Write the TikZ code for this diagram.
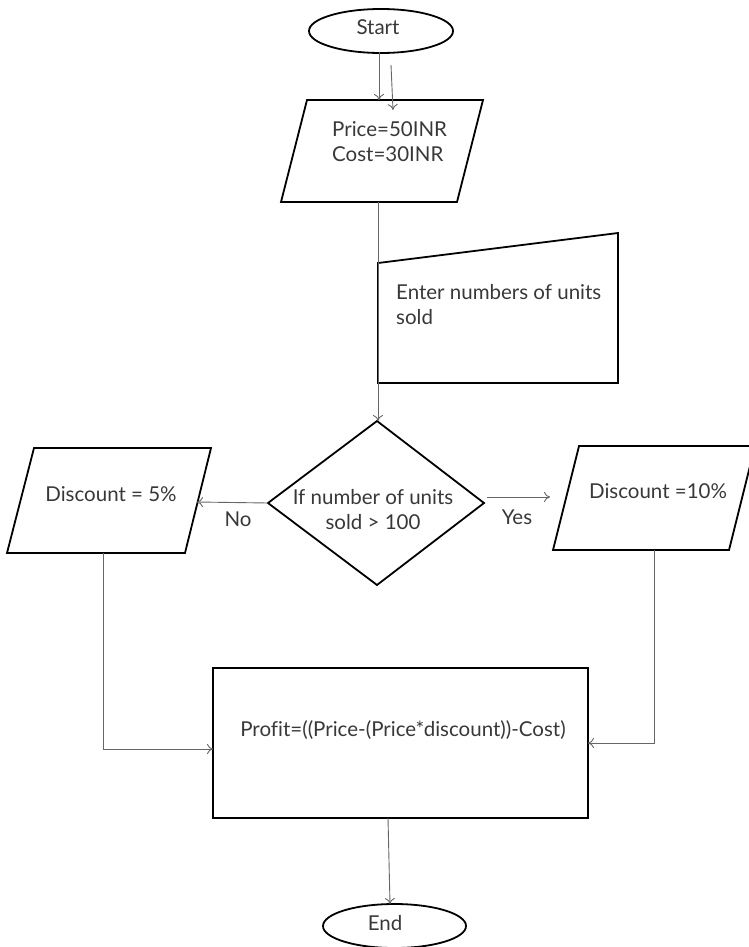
\documentclass[tikz,border=0pt]{standalone}
\usepackage{fontspec}
\setmainfont{Lato}[Ligatures=NoCommon]
\usetikzlibrary{arrows.meta,shapes.geometric}
\begin{document}
\begin{tikzpicture}[x=1pt,y=-1pt,
  shapeline/.style={draw=black,line width=1.8pt},
  conn/.style={draw=black!60,line width=0.9pt,-{To[length=6pt,width=10pt]}},
  txt/.style={text=black!78,font=\fontsize{20.5}{25}\selectfont,inner sep=0pt},
]
\useasboundingbox (0,0) rectangle (749,947);
\clip (0,0) rectangle (749,947);

% Start / End
\node[shapeline,ellipse,minimum width=144pt,minimum height=44pt,inner sep=0pt] (start) at (381,31) {};
\node[txt] (starttxt) at (378,27) {Start};
\node[shapeline,ellipse,minimum width=143pt,minimum height=44pt,inner sep=0pt] (end) at (394.5,926) {};
\node[txt] (endtxt) at (385,923) {End};

% Input parallelogram
\coordinate (p1a) at (307,100);
\coordinate (p1b) at (483,100);
\coordinate (p1c) at (457,202);
\coordinate (p1d) at (281,202);
\draw[shapeline] (p1a) -- (p1b) -- (p1c) -- (p1d) -- cycle;
\node[txt,align=left,anchor=west] (pricetxt) at (332,142) {Price=50INR\\Cost=30INR};

% Start arrows
\coordinate (s1) at (379,52);
\coordinate (s1e) at (379,100);
\coordinate (s2) at (391,65);
\coordinate (s2e) at (393,110);
\draw[conn] (s1) -- (s1e);
\draw[conn] (s2) -- (s2e);

% Manual input
\coordinate (m1) at (378,263);
\coordinate (m2) at (618,233);
\coordinate (m3) at (618,383);
\coordinate (m4) at (378,383);
\draw[shapeline] (m1) -- (m2) -- (m3) -- (m4) -- cycle;
\node[txt,align=left,anchor=west] (entertxt) at (396,304.5) {Enter numbers of units\\sold};

% Decision
\coordinate (dt) at (377,421);
\coordinate (dl) at (268,503);
\coordinate (dr) at (484,503);
\coordinate (db) at (377,585);
\draw[shapeline,line join=miter] (dt) -- (dr) -- (db) -- (dl) -- cycle;
\node[txt,align=center] (ifttxt) at (373,509.5) {If number of units\\sold > 100};

\coordinate (p1out) at (378,202);
\coordinate (dtin) at (378,421);
\draw[conn] (p1out) -- (dtin);

% Left parallelogram
\coordinate (la) at (34,448);
\coordinate (lb) at (211,448);
\coordinate (lc) at (185,553);
\coordinate (ld) at (7,553);
\draw[shapeline] (la) -- (lb) -- (lc) -- (ld) -- cycle;
\node[txt] (d5txt) at (111,494) {Discount = 5\%};

% Right parallelogram
\coordinate (ra) at (579,446);
\coordinate (rb) at (755,446);
\coordinate (rc) at (729,550);
\coordinate (rd) at (553,550);
\draw[shapeline] (ra) -- (rb) -- (rc) -- (rd) -- cycle;
\node[txt] (d10txt) at (658,491) {Discount =10\%};

% No / Yes
\coordinate (noend) at (197,502);
\draw[conn] (dl) -- (noend);
\node[txt] (notxt) at (238,519) {No};
\coordinate (yesstart) at (487,497);
\coordinate (yesend) at (550,497);
\draw[conn] (yesstart) -- (yesend);
\node[txt] (yestxt) at (517,517) {Yes};

% Profit box
\node[shapeline,rectangle,minimum width=375pt,minimum height=150pt,inner sep=0pt] (profit) at (400.5,743) {};
\node[txt] (profittxt) at (403,730) {Profit=((Price-(Price*discount))-Cost)};

% Left/right connectors into profit box
\coordinate (lout) at (103,553);
\coordinate (lcorner) at (103,749);
\coordinate (lin) at (213,749);
\draw[conn] (lout) -- (lcorner) -- (lin);
\coordinate (rout) at (654,550);
\coordinate (rcorner) at (654,743);
\coordinate (rin) at (588,743);
\draw[conn] (rout) -- (rcorner) -- (rin);

% Profit to End
\coordinate (pout) at (388,818);
\coordinate (ein) at (390,904);
\draw[conn] (pout) -- (ein);
\end{tikzpicture}
\end{document}
